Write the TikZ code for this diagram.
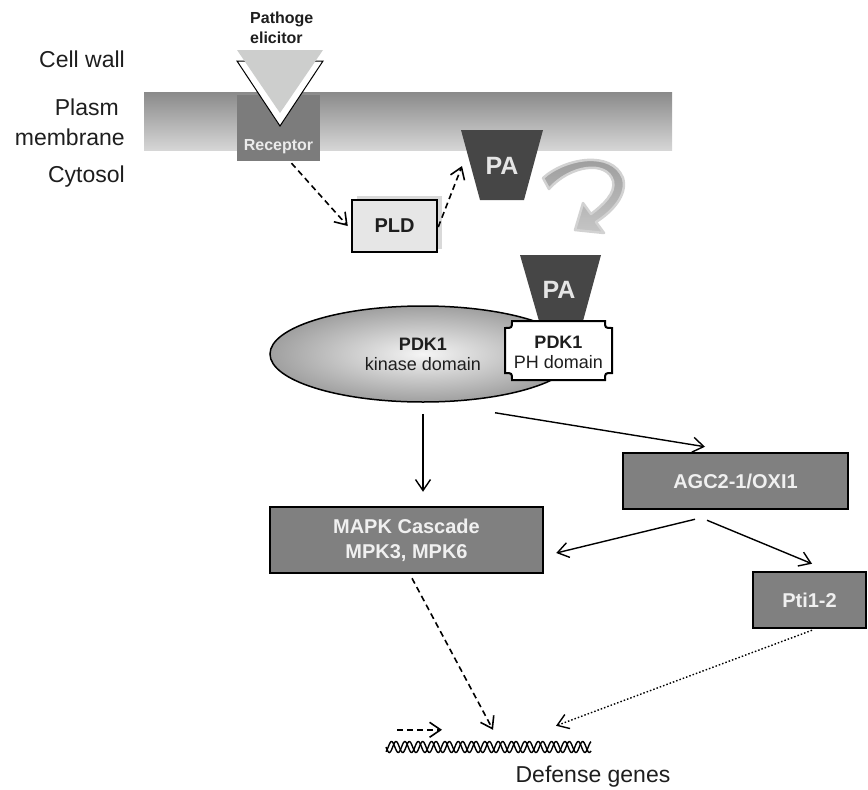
\documentclass[tikz,border=0pt]{standalone}
\usepackage{fontspec}
\setmainfont{Liberation Sans}
\usetikzlibrary{arrows.meta,shapes.geometric}

\definecolor{memtop}{RGB}{138,138,138}
\definecolor{membot}{RGB}{214,214,214}
\definecolor{recgray}{RGB}{124,124,124}
\definecolor{elicgray}{RGB}{205,206,205}
\definecolor{padark}{RGB}{70,70,70}
\definecolor{boxgray}{RGB}{128,128,128}
\definecolor{pldfill}{RGB}{230,230,230}
\definecolor{txt}{RGB}{30,30,30}

\begin{document}
\begin{tikzpicture}[x=1pt,y=1pt,yscale=-1,
  lbl/.style={anchor=east, inner sep=0pt, text=txt, align=right, font=\fontsize{23}{30}\selectfont},
  gbox/.style={draw=black, line width=2.5pt, fill=boxgray, text=white!94!black, align=center, inner sep=0pt, font=\bfseries\fontsize{20}{25}\selectfont},
  patxt/.style={text=white!90!black, inner sep=0pt, font=\bfseries\fontsize{25}{25}\selectfont},
  arr/.style={line width=1.4pt, -{Straight Barb[length=11pt,width=15pt]}},
  dasharr/.style={arr, line width=1.6pt, dash pattern=on 6pt off 4pt},
  dotarr/.style={arr, dash pattern=on 1.5pt off 2pt}]
\useasboundingbox (0,0) rectangle (868,790);

%Shape: Rectangle (plasma membrane)
\fill[top color=memtop, bottom color=membot] (144,92) rectangle (672,150);

% Text Node
\node[lbl] (wall) at (125,59) {Cell wall};
\node[lbl] (memb) at (125,122) {Plasm\kern6pt\\membrane};
\node[lbl] (cyto) at (125,177) {Cytosol};

%Shape: Rectangle (receptor)
\node[fill=recgray, minimum width=83, minimum height=66, inner sep=0pt] (rec) at (278.5,128) {};
\node[anchor=south, inner sep=0pt, text=white!92!black, font=\bfseries\fontsize{16}{16}\selectfont] (reclbl) at (278.5,154) {Receptor};

%Shape: Triangle (elicitor)
\draw[fill=white, line width=1pt] (237,61) -- (323,61) -- (280,126) -- cycle;
\fill[elicgray] (237,50) -- (323,50) -- (280,113) -- cycle;
\node[anchor=west, inner sep=0pt, text=txt, align=left, font=\bfseries\fontsize{16}{20}\selectfont] (elic) at (250,28) {Pathoge\\elicitor};

%Shape: Rectangle (PLD)
\fill[gray!30] (357,196) rectangle (442,249);
\node[draw, line width=2.5pt, fill=pldfill, minimum width=85, minimum height=52, inner sep=0pt, text=txt, font=\bfseries\fontsize{20}{20}\selectfont] (pld) at (394.5,226) {PLD};

%Shape: Trapezoid (PA in membrane)
\fill[padark] (461,130) -- (543,130) -- (524,200) -- (480,200) -- cycle;
\node[patxt] (pa1) at (502,166) {PA};

%Shape: Curved arrow
\draw[line width=2.5pt, draw=gray!35, top color=gray!80, bottom color=gray!45, line join=round]
  (549,189) -- (543,178) .. controls (565,158) and (612,150) .. (623,178)
  .. controls (628,195) and (612,212) .. (596,222) -- (604,233) -- (575,230) -- (583,203)
  -- (591,214) .. controls (603,205) and (616,193) .. (613,181)
  .. controls (607,160) and (570,165) .. (549,189) -- cycle;

%Shape: Ellipse (kinase domain)
\node[ellipse, draw, line width=1.5pt, inner color=gray!8, outer color=gray!75, minimum width=306, minimum height=96, text=txt, align=center, font=\fontsize{18}{20}\selectfont] (kin) at (423,354) {\textbf{PDK1}\\kinase domain};

%Shape: Trapezoid (bound PA)
\fill[padark] (520,255) -- (601,255) -- (583,321) -- (539,321) -- cycle;
\node[patxt] (pa2) at (559,290) {PA};

%Shape: Notched box (PH domain)
\draw[line width=2pt, fill=white] (512,321) -- (605,321) .. controls (605,328) .. (612,328) -- (612,373)
  .. controls (605,373) .. (605,380) -- (512,380) .. controls (512,373) .. (505,373) -- (505,328)
  .. controls (512,328) .. (512,321) -- cycle;
\node[text=txt, align=center, inner sep=0pt, font=\fontsize{18}{20}\selectfont] (ph) at (558.5,352) {\textbf{PDK1}\\PH domain};

%Shape: Rectangle (kinases)
\node[gbox, minimum width=273, minimum height=66] (mapk) at (406.5,540) {MAPK Cascade\\MPK3, MPK6};
\node[gbox, minimum width=225, minimum height=56] (agc) at (735.5,481) {AGC2-1/OXI1};
\node[gbox, minimum width=113, minimum height=56] (pti) at (809.5,600) {Pti1-2};

%Shape: Helix (genes)
\node[minimum width=205, minimum height=14, inner sep=0pt] (dna) at (489,747) {};
\draw[line width=1.4pt] plot[domain=386:591, samples=300] (\x, {747+5.5*sin(27*(\x-386))});
\draw[line width=1.4pt] plot[domain=386:591, samples=300] (\x, {747+5.5*sin(27*(\x-386)+120)});
\node[text=txt, inner sep=0pt, font=\fontsize{23}{23}\selectfont] (genes) at (593,777) {Defense genes};

%Straight Lines
\draw[dasharr] ([xshift=13pt,yshift=2pt]rec.south) -- ([xshift=-3pt]pld.west);
\draw[dasharr] ([yshift=1pt]pld.east) -- ([xshift=-40pt]pa1.center);
\draw[arr, shorten <=11pt, shorten >=14pt] (kin.south) -- (kin.south |- mapk.north);
\draw[arr] ([xshift=72pt,yshift=10pt]kin.south) -- ([xshift=-30.5pt,yshift=-5pt]agc.north);
\draw[arr] ([xshift=-40.5pt,yshift=9pt]agc.south) -- ([xshift=12pt,yshift=13pt]mapk.east);
\draw[arr] ([xshift=-28.5pt,yshift=10pt]agc.south) -- ([xshift=2.5pt,yshift=-7pt]pti.north);
\draw[dasharr] ([xshift=5.5pt,yshift=4pt]mapk.south) -- ([xshift=4pt,yshift=-10pt]dna.north);
\draw[dotarr] ([xshift=2.5pt,yshift=1pt]pti.south) -- ([xshift=67pt,yshift=-14pt]dna.north);
\draw[dasharr] ([xshift=-92pt,yshift=-10pt]dna.north) -- ([xshift=-47pt,yshift=-10pt]dna.north);

\end{tikzpicture}
\end{document}
